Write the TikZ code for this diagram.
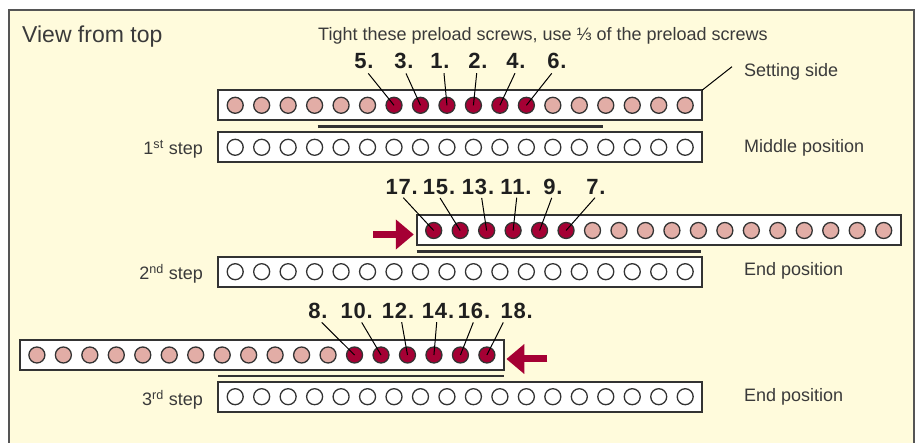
\documentclass[tikz,border=0pt]{standalone}
\usepackage{fontspec}
\setmainfont{Liberation Sans}
\usetikzlibrary{arrows.meta,calc}
\definecolor{bg}{HTML}{FFFBDC}
\definecolor{dred}{HTML}{A50034}
\definecolor{pinkc}{HTML}{E2ADA6}
\definecolor{edge}{HTML}{333333}
\definecolor{framec}{HTML}{555555}
\definecolor{txt}{HTML}{3A3A3A}
\begin{document}
\begin{tikzpicture}[x=1pt,y=-1pt,
  bar/.style={draw=edge, line width=2pt, fill=white, minimum width=484pt, minimum height=30pt, inner sep=0pt, outer sep=0pt},
  screw/.style={circle, draw=edge, line width=1.3pt, minimum size=16pt, inner sep=0pt},
  hot/.style={screw, fill=dred},
  warm/.style={screw, fill=pinkc},
  cold/.style={screw, fill=white},
  num/.style={font=\fontsize{22}{26}\selectfont\bfseries\addfontfeature{LetterSpace=4}, text=black!88, anchor=base, inner sep=0pt},
  lbl/.style={font=\fontsize{18}{22}\selectfont, text=txt, anchor=base west, inner sep=0pt},
  steplbl/.style={font=\fontsize{18}{22}\selectfont, text=txt, anchor=base east, inner sep=0pt},
  leader/.style={draw=black, line width=1pt},
  underbar/.style={draw=edge, line width=2.5pt},
  push/.style={draw=dred, line width=7pt, -{Triangle[length=18pt,width=29pt]}}
]
\useasboundingbox (0,0) rectangle (919,443);
\clip (0,0) rectangle (919,443);
\fill[white] (0,0) rectangle (919,443);
\fill[bg] (9,10) rectangle (914,460);
\draw[framec, line width=2pt] (9,460) -- (9,10) -- (914,10) -- (914,460);

% texts
\node[font=\fontsize{23}{27}\selectfont, text=txt, anchor=base west, inner sep=0pt] (title) at (22,42.3) {View from top};
\node[lbl] (instr) at (318,40.5) {Tight these preload screws, use ⅓ of the preload screws};
\node[lbl] (ss) at (744,77) {Setting side};
\node[lbl] (mp) at (744,152.5) {Middle position};
\node[lbl] (ep2) at (744,275.7) {End position};
\node[lbl] (ep3) at (744,402) {End position};
\node[steplbl] (s1) at (203,155) {1\textsuperscript{st} step};
\node[steplbl] (s2) at (203,279.3) {2\textsuperscript{nd} step};
\node[steplbl] (s3) at (203,406) {3\textsuperscript{rd} step};

% bars
\node[bar] (b1) at (460,105.3) {};
\node[bar] (b1s) at (460,147.3) {};
\node[bar] (b2m) at (658.5,230.5) {};
\node[bar] (b2s) at (460,271.7) {};
\node[bar] (b3m) at (261.7,355) {};
\node[bar] (b3s) at (460,396.7) {};

% underlines
\draw[underbar] (317.7,126.7) -- (602.7,126.7);
\draw[underbar] (b2m.south west |- 0,251.5) -- (700.7,251.5);
\draw[underbar] (218.3,376) -- (b3m.south east |- 0,376);

% screws row 1
\foreach \i in {0,...,5,12,13,...,17} \node[warm] (t\i) at ({235.2+26.47*\i},105.3) {};
\foreach \i in {6,...,11} \node[hot] (t\i) at ({235.2+26.47*\i},105.3) {};
\foreach \i in {0,...,17} \node[cold] (u\i) at ({235.2+26.47*\i},147.3) {};
% row 2
\foreach \i in {0,...,5} \node[hot] (m\i) at ({433.7+26.47*\i},230.5) {};
\foreach \i in {6,...,17} \node[warm] (m\i) at ({433.7+26.47*\i},230.5) {};
\foreach \i in {0,...,17} \node[cold] (v\i) at ({235.2+26.47*\i},271.7) {};
% row 3
\foreach \i in {0,...,11} \node[warm] (n\i) at ({36.9+26.47*\i},355) {};
\foreach \i in {12,...,17} \node[hot] (n\i) at ({36.9+26.47*\i},355) {};
\foreach \i in {0,...,17} \node[cold] (w\i) at ({235.2+26.47*\i},396.7) {};

% labels and leaders row 1
\foreach \lab/\px/\sx/\ci in {5./364/368.3/6, 3./404/406/7, 1./440/444/8, 2./478/476.7/9, 4./516/515/10, 6./557/551.7/11}{
  \node[num] (la\ci) at (\px,69) {\lab};
  \draw[leader] ([xshift=\sx-\px,yshift=-4pt]la\ci.south) -- (t\ci.center);
}
% row 2
\foreach \lab/\px/\sx/\ci in {17./401.7/403.3/0, 15./439/440/1, 13./478/481.7/2, 11./516/516.7/3, 9./553/551.7/4, 7./596/595/5}{
  \node[num] (lb\ci) at (\px,195) {\lab};
  \draw[leader] ([xshift=\sx-\px,yshift=-2.5pt]lb\ci.south) -- (m\ci.center);
}
% row 3
\foreach \lab/\px/\sx/\ci in {8./318/321.7/12, 10./356.7/361.7/13, 12./398/401.7/14, 14./438/436.7/15, 16./474/473.3/16, 18./516.7/503.3/17}{
  \node[num] (lc\ci) at (\px,319) {\lab};
  \draw[leader] ([xshift=\sx-\px,yshift=-3pt]lc\ci.south) -- (n\ci.center);
}

% setting side leader
\coordinate (ssend) at (732,66.7);
\draw[leader] (b1.north east) -- (ssend);

% arrows
\coordinate (a2s) at (373,234.5);
\draw[push] (a2s) -- ([xshift=-2.7pt,yshift=-4pt]b2m.west);
\coordinate (a3s) at (547.3,359);
\draw[push] (a3s) -- ([xshift=2.7pt,yshift=-4pt]b3m.east);
\end{tikzpicture}
\end{document}
